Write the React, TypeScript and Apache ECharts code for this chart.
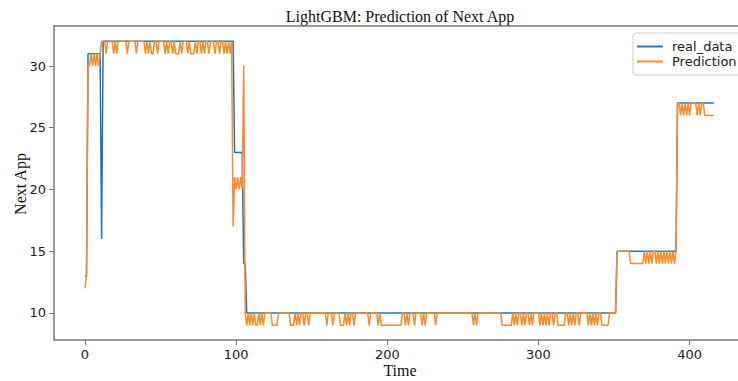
import React, { useEffect, useRef } from "react";
import * as echarts from "echarts";

const realData = [
  13,13,31,31,31,31,31,31,31,31,
  31,16,32,32,32,32,32,32,32,32,
  32,32,32,32,32,32,32,32,32,32,
  32,32,32,32,32,32,32,32,32,32,
  32,32,32,32,32,32,32,32,32,32,
  32,32,32,32,32,32,32,32,32,32,
  32,32,32,32,32,32,32,32,32,32,
  32,32,32,32,32,32,32,32,32,32,
  32,32,32,32,32,32,32,32,32,32,
  32,32,32,32,32,32,32,32,32,23,
  23,23,23,23,23,14,14,10,10,10,
  10,10,10,10,10,10,10,10,10,10,
  10,10,10,10,10,10,10,10,10,10,
  10,10,10,10,10,10,10,10,10,10,
  10,10,10,10,10,10,10,10,10,10,
  10,10,10,10,10,10,10,10,10,10,
  10,10,10,10,10,10,10,10,10,10,
  10,10,10,10,10,10,10,10,10,10,
  10,10,10,10,10,10,10,10,10,10,
  10,10,10,10,10,10,10,10,10,10,
  10,10,10,10,10,10,10,10,10,10,
  10,10,10,10,10,10,10,10,10,10,
  10,10,10,10,10,10,10,10,10,10,
  10,10,10,10,10,10,10,10,10,10,
  10,10,10,10,10,10,10,10,10,10,
  10,10,10,10,10,10,10,10,10,10,
  10,10,10,10,10,10,10,10,10,10,
  10,10,10,10,10,10,10,10,10,10,
  10,10,10,10,10,10,10,10,10,10,
  10,10,10,10,10,10,10,10,10,10,
  10,10,10,10,10,10,10,10,10,10,
  10,10,10,10,10,10,10,10,10,10,
  10,10,10,10,10,10,10,10,10,10,
  10,10,10,10,10,10,10,10,10,10,
  10,10,10,10,10,10,10,10,10,10,
  10,10,15,15,15,15,15,15,15,15,
  15,15,15,15,15,15,15,15,15,15,
  15,15,15,15,15,15,15,15,15,15,
  15,15,15,15,15,15,15,15,15,15,
  15,15,27,27,27,27,27,27,27,27,
  27,27,27,27,27,27,27,27,27,27,
  27,27,27,27,27,27,27,
];

const prediction = [
  12,13,30,30,31,30,31,30,31,30,
  31,32,32,32,31,32,32,32,32,31,
  32,31,32,32,32,32,32,32,31,32,
  32,32,32,32,31,32,32,32,32,32,
  31,32,31,32,31,31,32,32,31,32,
  32,32,32,31,32,31,32,32,31,32,
  31,31,31,32,31,32,32,32,31,32,
  31,31,31,32,31,32,32,31,32,31,
  32,32,31,32,32,32,31,32,32,31,
  32,32,31,32,31,32,31,32,17,21,
  20,21,20,21,20,30,10,9,10,9,
  10,9,10,9,9,10,9,10,9,10,
  10,10,10,10,9,9,9,9,10,10,
  10,10,10,10,10,10,9,9,9,10,
  9,10,9,10,10,9,10,10,9,10,
  10,10,10,10,10,10,10,10,10,10,
  9,10,10,10,9,10,10,10,10,9,
  9,9,10,9,10,9,10,10,9,10,
  10,10,10,10,10,10,10,10,9,10,
  10,10,10,10,9,10,9,9,9,9,
  9,9,9,9,9,9,9,9,9,9,
  10,10,9,10,9,10,10,10,9,10,
  10,10,10,9,10,9,10,10,10,10,
  10,10,9,10,10,10,10,10,10,10,
  10,10,10,10,10,10,10,10,10,10,
  10,10,10,10,10,10,10,9,10,9,
  10,10,10,10,10,10,10,10,10,10,
  10,10,10,10,10,10,9,9,9,9,
  9,9,9,10,9,10,9,10,10,9,
  10,9,10,10,9,10,9,10,10,10,
  10,9,10,9,10,9,10,9,10,10,
  9,10,10,9,9,9,9,9,10,10,
  9,10,9,10,9,10,10,9,10,10,
  10,10,10,9,10,9,10,9,10,9,
  10,10,9,9,9,9,9,10,10,10,
  10,10,15,15,15,15,15,15,15,15,
  15,14,14,14,14,14,14,14,14,14,
  15,14,15,14,15,14,15,15,14,15,
  14,15,14,15,14,15,14,15,14,15,
  14,15,27,27,26,27,26,27,26,27,
  26,27,27,27,27,26,27,26,27,27,
  26,26,26,26,26,26,26,
];

const xTicks = [0, 100, 200, 300, 400];
const yTicks = [10, 15, 20, 25, 30];
const seriesNames = ["real_data", "Prediction"];

export default function App() {
  const ref = useRef<HTMLDivElement>(null);
  useEffect(() => {
    if (!ref.current) return;
    const chart = echarts.init(ref.current, null, { renderer: "svg" });
    const tickFont = { fontFamily: "DejaVu Sans", fontSize: 13, color: "#222" };
    const serif = '16px "Liberation Serif", "DejaVu Serif", serif';
    chart.setOption({
      animation: false,
      backgroundColor: "#fff",
      grid: { left: 54, right: 0, top: 26, bottom: 41, containLabel: false },
      graphic: [
        {
          type: "text",
          x: 400,
          y: 16,
          style: { text: "LightGBM: Prediction of Next App", font: serif, fill: "#111", align: "center", verticalAlign: "middle" },
        },
        {
          type: "text",
          x: 20,
          y: 184,
          rotation: Math.PI / 2,
          style: { text: "Next App", font: serif, fill: "#111", align: "center", verticalAlign: "middle" },
        },
        {
          type: "text",
          x: 400,
          y: 370,
          style: { text: "Time", font: serif, fill: "#111", align: "center", verticalAlign: "middle" },
        },
      ],
      legend: {
        data: seriesNames,
        orient: "vertical",
        left: 633,
        top: 33,
        padding: [7, 12, 7, 4],
        itemGap: 2,
        itemWidth: 26,
        itemHeight: 2,
        icon: "rect",
        backgroundColor: "#fff",
        borderColor: "#d0d0d0",
        borderWidth: 1,
        borderRadius: 3,
        textStyle: { fontFamily: "DejaVu Sans", fontSize: 13, color: "#222", padding: [0, 0, 0, 4] },
      },
      xAxis: [
        {
          type: "value",
          min: -20.5,
          max: 432,
          splitLine: { show: false },
          axisLine: { show: true, onZero: false, lineStyle: { color: "#777", width: 1.5 } },
          axisTick: { show: true, length: 5, customValues: xTicks, lineStyle: { color: "#777" } },
          axisLabel: { ...tickFont, margin: 8, customValues: xTicks },
        },
        {
          type: "value",
          position: "top",
          min: -20.5,
          max: 432,
          splitLine: { show: false },
          axisLine: { show: true, onZero: false, lineStyle: { color: "#777", width: 1.5 } },
          axisTick: { show: false },
          axisLabel: { show: false },
        },
      ],
      yAxis: {
        type: "value",
        min: 7.81,
        max: 33.24,
        splitLine: { show: false },
        axisLine: { show: true, onZero: false, lineStyle: { color: "#777", width: 1.5 } },
        axisTick: { show: true, length: 5, customValues: yTicks, lineStyle: { color: "#777" } },
        axisLabel: { ...tickFont, margin: 8, customValues: yTicks },
      },
      series: [
        {
          name: seriesNames[0],
          type: "line",
          xAxisIndex: 0,
          data: realData.map((v, i) => [i, v]),
          showSymbol: false,
          symbol: "none",
          lineStyle: { color: "#1f77b4", width: 1.5 },
          itemStyle: { color: "#1f77b4" },
        },
        {
          name: seriesNames[1],
          type: "line",
          xAxisIndex: 0,
          data: prediction.map((v, i) => [i, v]),
          showSymbol: false,
          symbol: "none",
          lineStyle: { color: "#fb8a2a", width: 1.5 },
          itemStyle: { color: "#fb8a2a" },
        },
      ],
    });
    return () => chart.dispose();
  }, []);
  return (
    <div
      ref={ref}
      style={{ position: "fixed", left: 0, top: 0, width: 738, height: 381, background: "#fff" }}
    />
  );
}
